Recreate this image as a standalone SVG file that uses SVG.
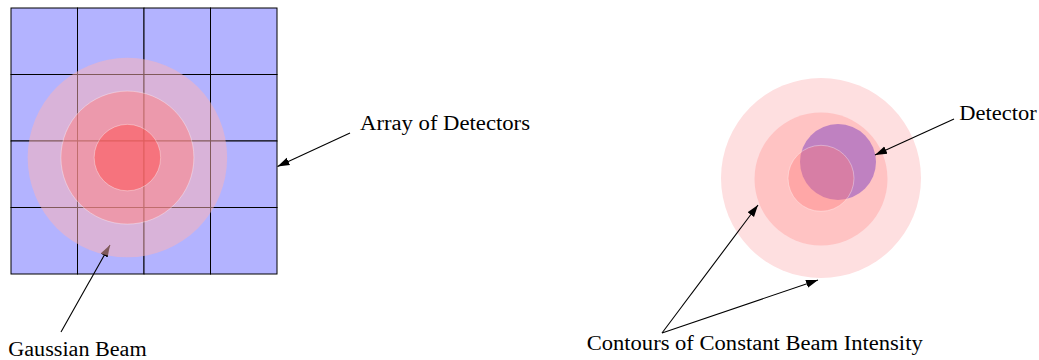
<svg xmlns="http://www.w3.org/2000/svg" width="1039" height="360" viewBox="0 0 1039 360">
<style>
.cell{fill:#b3b3ff;stroke:#000;stroke-width:1}
.lbl{font-family:"Liberation Serif","DejaVu Serif",serif;font-size:20.5px;fill:#000}
.conn{stroke:#000;stroke-width:1.1;fill:none;marker-end:url(#ah)}
.edge{stroke:#fff;stroke-opacity:0.35;stroke-width:1}
</style>
<defs>
<marker id="ah" markerUnits="userSpaceOnUse" markerWidth="13" markerHeight="10" viewBox="0 0 13 10" refX="12" refY="5" orient="auto">
<path d="M0,1 L12,5 L0,9 z" fill="#000"/>
</marker>
</defs>
<rect width="1039" height="360" fill="#fff"/>
<g id="contours">
<circle cx="821" cy="178" r="100" fill="#fedfe0"/>
<circle cx="821" cy="179" r="66.5" fill="#ffc3c3"/>
</g>
<g id="detector">
<circle cx="838" cy="162" r="38" fill="rgb(128,64,192)" fill-opacity="0.5"/>
</g>
<g id="contour-inner">
<circle cx="821" cy="178.3" r="33" fill="rgb(255,120,120)" fill-opacity="0.38" class="edge"/>
</g>
<g id="array">
<rect class="cell" x="11" y="8" width="66.5" height="66.5"/>
<rect class="cell" x="77.5" y="8" width="66.5" height="66.5"/>
<rect class="cell" x="144" y="8" width="66.5" height="66.5"/>
<rect class="cell" x="210.5" y="8" width="66.5" height="66.5"/>
<rect class="cell" x="11" y="74.5" width="66.5" height="66.5"/>
<rect class="cell" x="77.5" y="74.5" width="66.5" height="66.5"/>
<rect class="cell" x="144" y="74.5" width="66.5" height="66.5"/>
<rect class="cell" x="210.5" y="74.5" width="66.5" height="66.5"/>
<rect class="cell" x="11" y="141" width="66.5" height="66.5"/>
<rect class="cell" x="77.5" y="141" width="66.5" height="66.5"/>
<rect class="cell" x="144" y="141" width="66.5" height="66.5"/>
<rect class="cell" x="210.5" y="141" width="66.5" height="66.5"/>
<rect class="cell" x="11" y="207.5" width="66.5" height="66.5"/>
<rect class="cell" x="77.5" y="207.5" width="66.5" height="66.5"/>
<rect class="cell" x="144" y="207.5" width="66.5" height="66.5"/>
<rect class="cell" x="210.5" y="207.5" width="66.5" height="66.5"/>
</g>
<g id="connectors">
<line class="conn" x1="61" y1="332" x2="110" y2="245"/>
<line class="conn" x1="350" y1="133" x2="277.5" y2="166.5"/>
<line class="conn" x1="954" y1="119" x2="875" y2="155"/>
<line class="conn" x1="662" y1="333" x2="758" y2="205"/>
<line class="conn" x1="662" y1="333" x2="818" y2="280"/>
</g>
<g id="gaussian-beam">
<circle cx="127.4" cy="157.6" r="99.75" fill="rgb(255,179,179)" fill-opacity="0.5"/>
<circle cx="127.4" cy="157.6" r="66.5" fill="rgb(255,128,128)" fill-opacity="0.5" class="edge"/>
<circle cx="127.4" cy="157.6" r="33.25" fill="rgb(255,77,77)" fill-opacity="0.5" class="edge"/>
</g>
<g id="labels">
<text class="lbl" x="8.3" y="356" textLength="138.4" lengthAdjust="spacingAndGlyphs">Gaussian Beam</text>
<text class="lbl" x="360" y="130" textLength="170" lengthAdjust="spacingAndGlyphs">Array of Detectors</text>
<text class="lbl" x="959.3" y="120" textLength="77.4" lengthAdjust="spacingAndGlyphs">Detector</text>
<text class="lbl" x="586.7" y="350" textLength="336" lengthAdjust="spacingAndGlyphs">Contours of Constant Beam Intensity</text>
</g>
</svg>
